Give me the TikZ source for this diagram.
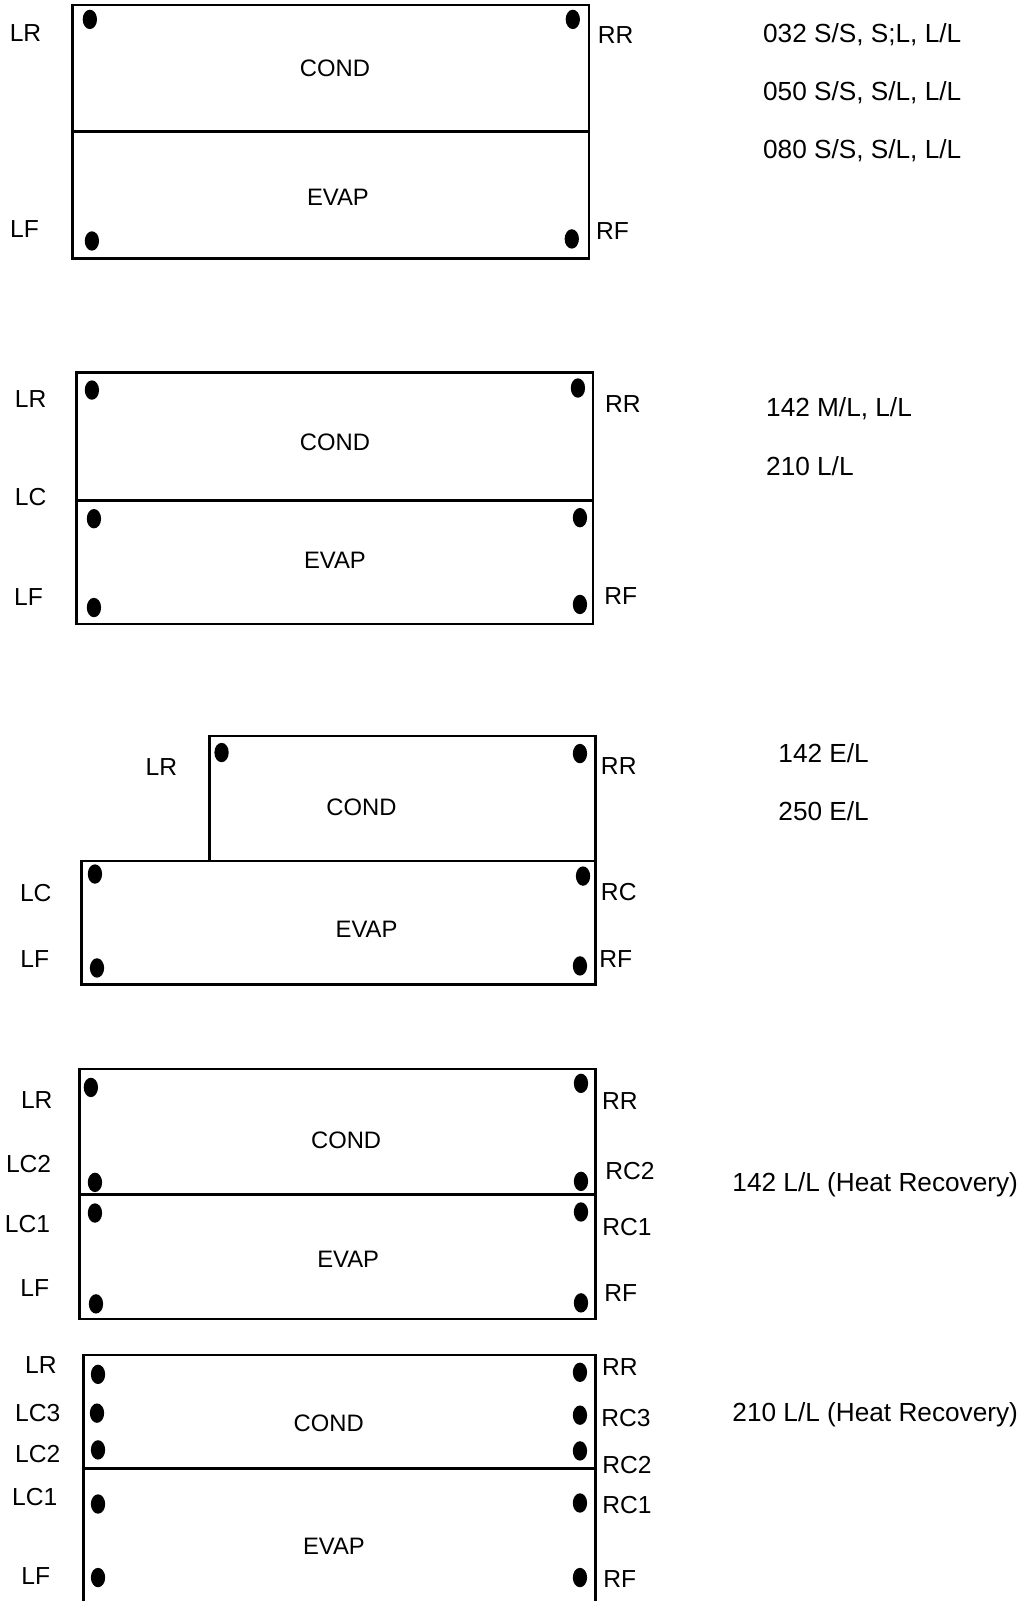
\documentclass[tikz,border=0pt]{standalone}
\usepackage{fontspec}
\setmainfont{Liberation Sans}
\begin{document}
\begin{tikzpicture}[x=0.5104pt,y=-0.5104pt,
  box/.style={line width=1.25pt},
  lbl/.style={inner sep=0pt,yshift=-1pt,text height=0.716em,text depth=0pt,font=\fontsize{12.3}{14}\selectfont},
  part/.style={lbl,font=\fontsize{11.9}{14}\selectfont},
  model/.style={lbl,anchor=west,font=\fontsize{13.1}{15}\selectfont},
  dot/.style={fill=black}]
\useasboundingbox[fill=white] (0,0) rectangle (1005,1568);

% ---------- Diagram 1 ----------
\draw[box] (71,5) rectangle (577,253);
\draw[box] (71,129) -- (577,129);
\node[part] (c1) at (328,66) {COND};
\node[part] (e1) at (331,192) {EVAP};
\node[lbl] (lr1) at (25,32) {LR};
\node[lbl] (rr1) at (603,34) {RR};
\node[lbl] (lf1) at (24,224) {LF};
\node[lbl] (rf1) at (600,226) {RF};
\foreach \p in {(88,19),(561,19),(90,236),(560,234)}
  \fill[dot] \p ellipse (7 and 9.5);
\node[model] (m1a) at (747,33) {032 S/S, S;L, L/L};
\node[model] (m1b) at (747,89) {050 S/S, S/L, L/L};
\node[model] (m1c) at (747,146) {080 S/S, S/L, L/L};

% ---------- Diagram 2 ----------
\draw[box] (75,365) rectangle (581,611);
\draw[box] (75,490) -- (581,490);
\node[part] (c2) at (328,432) {COND};
\node[part] (e2) at (328,548) {EVAP};
\node[lbl] (lr2) at (30,390) {LR};
\node[lbl] (rr2) at (610,395) {RR};
\node[lbl] (lc2) at (30,486) {LC};
\node[lbl] (lf2) at (28,584) {LF};
\node[lbl] (rf2) at (608,583) {RF};
\foreach \p in {(90,382),(566,380),(92,508),(568,507),(92,595),(568,592)}
  \fill[dot] \p ellipse (7 and 9.5);
\node[model] (m2a) at (750,399) {142 M/L, L/L};
\node[model] (m2b) at (750,457) {210 L/L};

% ---------- Diagram 3 ----------
\draw[box] (205,843) -- (205,721) -- (583,721) -- (583,843);
\draw[box] (80,843) rectangle (583,964);
\node[part] (c3) at (354,790) {COND};
\node[part] (e3) at (359,909) {EVAP};
\node[lbl] (lr3) at (158,751) {LR};
\node[lbl] (rr3) at (606,750) {RR};
\node[lbl] (lc3) at (35,874) {LC};
\node[lbl] (rc3) at (606,873) {RC};
\node[lbl] (lf3) at (34,939) {LF};
\node[lbl] (rf3) at (603,939) {RF};
\foreach \p in {(217,737),(568,738),(93,856),(571,858),(95,948),(568,946)}
  \fill[dot] \p ellipse (7 and 9.5);
\node[model] (m3a) at (762,738) {142 E/L};
\node[model] (m3b) at (762,795) {250 E/L};

% ---------- Diagram 4 ----------
\draw[box] (78,1047) rectangle (583,1292);
\draw[box] (78,1170) -- (583,1170);
\node[part] (c4) at (339,1116) {COND};
\node[part] (e4) at (341,1232) {EVAP};
\node[lbl] (lr4) at (36,1077) {LR};
\node[lbl] (rr4) at (607,1078) {RR};
\node[lbl] (lcb4) at (28,1139) {LC2};
\node[lbl] (rcb4) at (617,1146) {RC2};
\node[lbl] (lca4) at (27,1198) {LC1};
\node[lbl] (rca4) at (614,1201) {RC1};
\node[lbl] (lf4) at (34,1261) {LF};
\node[lbl] (rf4) at (608,1266) {RF};
\foreach \p in {(89,1065),(569,1061),(93,1158),(569,1157),(93,1188),(569,1187),(94,1277),(569,1276)}
  \fill[dot] \p ellipse (7 and 9.5);
\node[model] (m4) at (717,1158) {142 L/L (Heat Recovery)};

% ---------- Diagram 5 ----------
\draw[box] (82,1600) -- (82,1327) -- (583,1327) -- (583,1600);
\draw[box] (82,1438) -- (583,1438);
\node[part] (c5) at (322,1393) {COND};
\node[part] (e5) at (327,1513) {EVAP};
\node[lbl] (lr5) at (40,1336) {LR};
\node[lbl] (rr5) at (607,1338) {RR};
\node[lbl] (lcc5) at (37,1383) {LC3};
\node[lbl] (rcc5) at (613,1388) {RC3};
\node[lbl] (lcb5) at (37,1423) {LC2};
\node[lbl] (rcb5) at (614,1434) {RC2};
\node[lbl] (lca5) at (34,1465) {LC1};
\node[lbl] (rca5) at (614,1473) {RC1};
\node[lbl] (lf5) at (35,1543) {LF};
\node[lbl] (rf5) at (607,1546) {RF};
\foreach \p in {(96,1346),(568,1344),(95,1384),(568,1386),(96,1420),(568,1421),(96,1473),(568,1472),(96,1545),(568,1545)}
  \fill[dot] \p ellipse (7 and 9.5);
\node[model] (m5) at (717,1383) {210 L/L (Heat Recovery)};
\end{tikzpicture}
\end{document}
